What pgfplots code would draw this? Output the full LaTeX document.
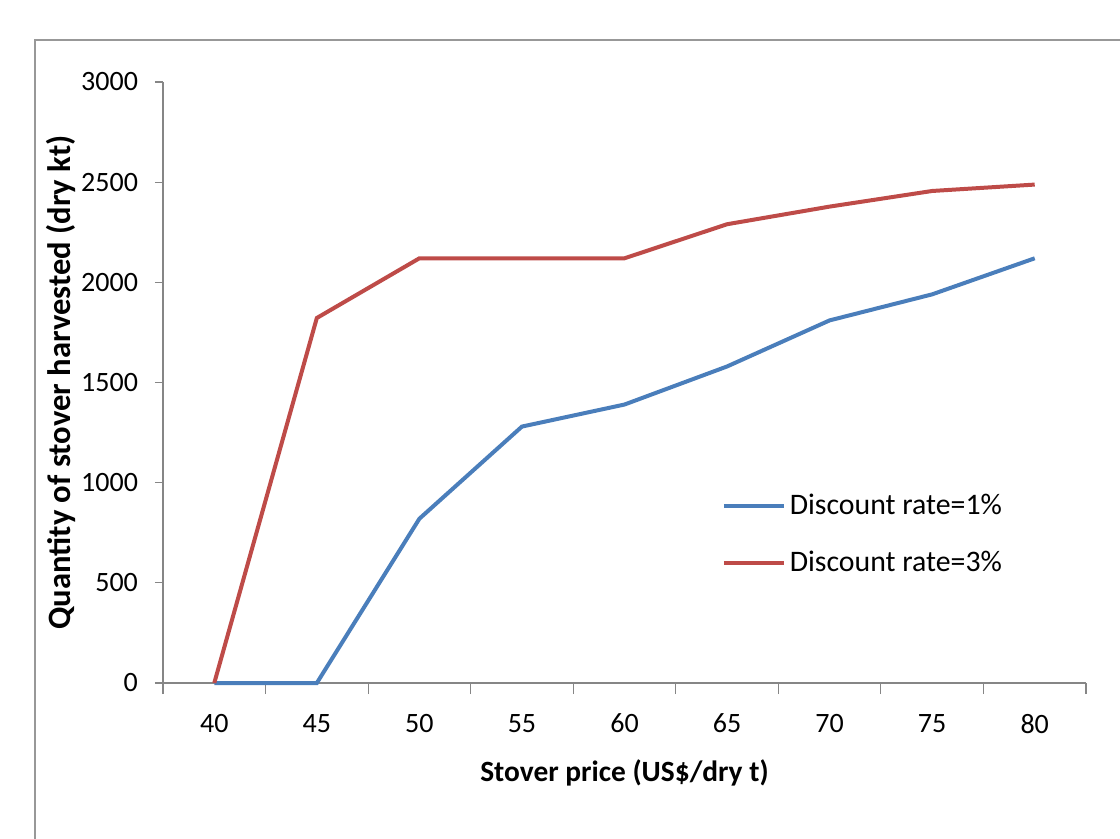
\documentclass[border=0pt]{standalone}
\usepackage{pgfplots}
\pgfplotsset{compat=1.18}
\usepackage{fontspec}
\setmainfont{Carlito}
\definecolor{xlblue}{HTML}{4A7EBB}
\definecolor{xlred}{HTML}{BE4B48}
\definecolor{axgray}{HTML}{868686}
\begin{document}
\begin{tikzpicture}[font=\fontsize{14}{17}\selectfont]
\path[use as bounding box] (0,0) rectangle (560pt,-419.5pt);
\draw[color=axgray!85, line width=1.2pt] (17.5pt,-480pt) -- (17.5pt,-20pt) -- (620pt,-20pt);
\begin{axis}[
  at={(81.5pt,-341.5pt)}, anchor=south west,
  scale only axis, width=461.5pt, height=300.5pt,
  xmin=-0.5, xmax=8.5, ymin=0, ymax=3000,
  axis lines*=left,
  axis line style={color=axgray, line width=0.6pt},
  xtick={0,...,8},
  xticklabels={40,45,50,55,60,65,70,75,80},
  major x tick style={draw=none},
  minor xtick={-0.5,0.5,...,8.5},
  minor x tick style={color=axgray, line width=0.6pt},
  minor tick length=5.5pt,
  ytick={0,500,...,3000},
  major y tick style={color=axgray, line width=0.6pt},
  major tick length=4pt,
  tick align=outside,
  /pgf/number format/assume math mode=true,
  yticklabel style={/pgf/number format/1000 sep={}, xshift=-5pt},
  xticklabel style={yshift=-8pt},
  xlabel={\textbf{Stover price (US\$/dry t)}},
  ylabel={\textbf{Quantity of stover harvested (dry kt)}},
  xlabel style={yshift=-6.5pt, font=\fontsize{14.7}{17}\selectfont},
  ylabel style={yshift=-4pt, font=\fontsize{16.3}{19}\selectfont},
  legend style={draw=none, fill=none, at={(0.605,0.322)}, anchor=north west,
    row sep=13pt, inner sep=0pt, font=\fontsize{14.9}{17}\selectfont},
  legend cell align=left,
  legend image code/.code={\draw[#1, line width=2pt] (0pt,0pt) -- (30pt,0pt);},
  clip=false,
]
\addplot[color=xlblue, line width=2pt] coordinates {
  (0,0) (1,0) (2,820) (3,1280) (4,1390) (5,1580) (6,1810) (7,1940) (8,2120)};
\addlegendentry{Discount rate=1\%}
\addplot[color=xlred, line width=2pt] coordinates {
  (0,0) (1,1822) (2,2120) (3,2120) (4,2120) (5,2290) (6,2378) (7,2456) (8,2488)};
\addlegendentry{Discount rate=3\%}
\end{axis}
\end{tikzpicture}
\end{document}
